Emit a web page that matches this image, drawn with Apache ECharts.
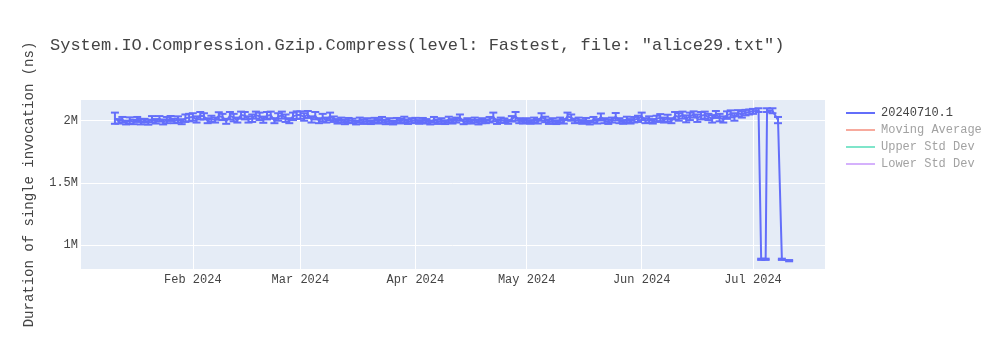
<!DOCTYPE html>
<html>
<head>
<meta charset="utf-8">
<script src="https://cdn.jsdelivr.net/npm/echarts@6/dist/echarts.min.js"></script>
<style>
html,body{margin:0;padding:0;background:#fff;}
#chart{width:1000px;height:350px;}
</style>
</head>
<body>
<div id="chart"></div>
<script>
const chartTitle = 'System.IO.Compression.Gzip.Compress(level: Fastest, file: "alice29.txt")';
const yTitle = 'Duration of single invocation (ns)';
const seriesNames = ['20240710.1', 'Moving Average', 'Upper Std Dev', 'Lower Std Dev'];
const monthNames = ['Jan','Feb','Mar','Apr','May','Jun','Jul','Aug','Sep','Oct','Nov','Dec'];

const dates = [
'2024-01-11','2024-01-12','2024-01-13','2024-01-14','2024-01-15','2024-01-16','2024-01-17','2024-01-18','2024-01-19','2024-01-20','2024-01-21','2024-01-22','2024-01-23','2024-01-24','2024-01-25','2024-01-26','2024-01-27','2024-01-28','2024-01-29','2024-01-30','2024-01-31',
'2024-02-01','2024-02-02','2024-02-03','2024-02-04','2024-02-05','2024-02-06','2024-02-07','2024-02-08','2024-02-09','2024-02-10','2024-02-11','2024-02-12','2024-02-13','2024-02-14','2024-02-15','2024-02-16','2024-02-17','2024-02-18','2024-02-19','2024-02-20','2024-02-21','2024-02-22','2024-02-23','2024-02-24','2024-02-25','2024-02-26','2024-02-27','2024-02-28','2024-02-29',
'2024-03-01','2024-03-02','2024-03-03','2024-03-04','2024-03-05','2024-03-06','2024-03-07','2024-03-08','2024-03-09','2024-03-10','2024-03-11','2024-03-12','2024-03-13','2024-03-14','2024-03-15','2024-03-16','2024-03-17','2024-03-18','2024-03-19','2024-03-20','2024-03-21','2024-03-22','2024-03-23','2024-03-24','2024-03-25','2024-03-26','2024-03-27','2024-03-28','2024-03-29','2024-03-30','2024-03-31',
'2024-04-01','2024-04-02','2024-04-03','2024-04-04','2024-04-05','2024-04-06','2024-04-07','2024-04-08','2024-04-09','2024-04-10','2024-04-11','2024-04-12','2024-04-13','2024-04-14','2024-04-15','2024-04-16','2024-04-17','2024-04-18','2024-04-19','2024-04-20','2024-04-21','2024-04-22','2024-04-23','2024-04-24','2024-04-25','2024-04-26','2024-04-27','2024-04-28','2024-04-29','2024-04-30',
'2024-05-01','2024-05-02','2024-05-03','2024-05-04','2024-05-05','2024-05-06','2024-05-07','2024-05-08','2024-05-09','2024-05-10','2024-05-11','2024-05-12','2024-05-13','2024-05-14','2024-05-15','2024-05-16','2024-05-17','2024-05-18','2024-05-19','2024-05-20','2024-05-21','2024-05-22','2024-05-23','2024-05-24','2024-05-25','2024-05-26','2024-05-27','2024-05-28','2024-05-29','2024-05-30','2024-05-31',
'2024-06-01','2024-06-02','2024-06-03','2024-06-04','2024-06-05','2024-06-06','2024-06-07','2024-06-08','2024-06-09','2024-06-10','2024-06-11','2024-06-12','2024-06-13','2024-06-14','2024-06-15','2024-06-16','2024-06-17','2024-06-18','2024-06-19','2024-06-20','2024-06-21','2024-06-22','2024-06-23','2024-06-24','2024-06-25','2024-06-26','2024-06-27','2024-06-28','2024-06-29','2024-06-30',
'2024-07-01','2024-07-02 12:00','2024-07-03 05:00','2024-07-04 10:00','2024-07-04 19:00','2024-07-06 06:00','2024-07-07 18:00','2024-07-08 19:00','2024-07-10 18:00'
];

const durations = [
2020000,1995000,2008000,1985000,2002000,1990000,2010000,1992000,2000000,1988000,2012000,1995000,2015000,1990000,2005000,2018000,1998000,2010000,1992000,2020000,2025000,
2030000,2010000,2040000,2035000,2000000,2015000,2005000,2038000,2030000,1995000,2040000,2025000,2005000,2045000,2040000,2010000,2020000,2045000,2035000,2008000,2040000,2045000,2000000,2030000,2045000,2020000,2000000,2035000,2045000,
2045000,2030000,2050000,2010000,2040000,2000000,2025000,2005000,2035000,2012000,1995000,2005000,1990000,2002000,1998000,1985000,2005000,1992000,2000000,1988000,2003000,1995000,2008000,1990000,2000000,1985000,2002000,1996000,2010000,1992000,2000000,
2005000,1990000,2002000,1995000,1985000,2008000,1992000,2000000,1988000,2010000,1995000,2005000,2025000,1990000,2000000,1992000,2005000,1988000,2000000,1995000,2008000,2030000,1992000,2005000,2000000,1990000,2015000,2035000,2000000,1995000,
2002000,1990000,2005000,1995000,2030000,2010000,1992000,2000000,1988000,2005000,1995000,2035000,2025000,1998000,2005000,1990000,2002000,1985000,2008000,1995000,2030000,2000000,1992000,2005000,2032000,2000000,1990000,2010000,1995000,2008000,2015000,
2035000,2000000,2010000,1995000,2015000,2025000,2005000,2020000,2000000,2040000,2030000,2045000,2015000,2035000,2050000,2020000,2040000,2045000,2030000,2015000,2050000,2025000,2010000,2045000,2055000,2030000,2060000,2050000,2065000,2070000,
2075000,2085000,885000,885000,2085000,2080000,2005000,885000,874000
];

const errors = [
45000,18000,22000,15000,25000,18000,20000,22000,15000,20000,25000,18000,22000,20000,25000,20000,18000,25000,20000,30000,30000,
30000,25000,30000,25000,20000,25000,20000,30000,25000,20000,30000,30000,20000,28000,30000,25000,30000,28000,30000,25000,30000,28000,20000,30000,28000,30000,20000,30000,30000,
30000,30000,28000,25000,30000,20000,30000,20000,30000,22000,18000,20000,18000,20000,18000,15000,20000,18000,20000,15000,20000,18000,22000,18000,20000,15000,20000,18000,22000,18000,20000,
18000,15000,20000,18000,15000,22000,18000,20000,15000,22000,18000,20000,25000,18000,20000,15000,20000,18000,20000,15000,22000,35000,18000,20000,18000,15000,22000,35000,20000,18000,
18000,15000,20000,18000,30000,22000,18000,20000,15000,20000,18000,30000,25000,18000,20000,15000,20000,15000,22000,18000,28000,20000,18000,20000,30000,20000,15000,22000,18000,22000,25000,
30000,20000,25000,18000,25000,28000,20000,28000,20000,30000,30000,28000,28000,30000,25000,30000,30000,28000,25000,30000,28000,30000,25000,30000,28000,30000,25000,25000,22000,20000,
20000,15000,5000,5000,15000,20000,25000,5000,5000
];

const lineColors = ['#636efa', 'rgba(239,85,59,0.5)', 'rgba(0,204,150,0.5)', 'rgba(171,99,250,0.5)'];
const legendTextColors = ['#444444', '#a2a2a2', '#a2a2a2', '#a2a2a2'];

const FONT = '"Liberation Mono", "Courier New", monospace';

const mainData = dates.map((d, i) => [d, durations[i]]);
const errData = dates.map((d, i) => [d, durations[i] - errors[i], durations[i] + errors[i]]);

function renderErr(params, api) {
  const x = api.value(0);
  const lo = api.coord([x, api.value(1)]);
  const hi = api.coord([x, api.value(2)]);
  const w = 4;
  const style = { stroke: '#636efa', lineWidth: 2, fill: null };
  return {
    type: 'group',
    children: [
      { type: 'line', shape: { x1: lo[0], y1: lo[1], x2: hi[0], y2: hi[1] }, style: style },
      { type: 'line', shape: { x1: lo[0] - w, y1: lo[1], x2: lo[0] + w, y2: lo[1] }, style: style },
      { type: 'line', shape: { x1: hi[0] - w, y1: hi[1], x2: hi[0] + w, y2: hi[1] }, style: style }
    ]
  };
}

const chart = echarts.init(document.getElementById('chart'), null, { renderer: 'canvas' });
chart.setOption({
  animation: false,
  backgroundColor: '#ffffff',
  title: {
    text: chartTitle,
    left: 50, top: 37, padding: 0,
    textStyle: { fontFamily: FONT, fontSize: 17, fontWeight: 'normal', color: '#444444' }
  },
  legend: {
    orient: 'vertical',
    left: 846, top: 107, padding: 0,
    itemWidth: 29, itemHeight: 2, itemGap: 5,
    icon: 'rect',
    selectedMode: false,
    textStyle: { fontFamily: FONT, fontSize: 12, color: '#444444', padding: [0, 0, 0, 1] },
    data: seriesNames.map((n, i) => ({ name: n, textStyle: { color: legendTextColors[i] } }))
  },
  grid: { left: 80, right: 175, top: 100, bottom: 81, containLabel: false, backgroundColor: '#E5ECF6', show: true, borderWidth: 0 },
  xAxis: {
    type: 'time',
    min: '2024-01-01 14:00',
    max: '2024-07-20 10:00',
    splitNumber: 6,
    axisLine: { show: false },
    axisTick: { show: false },
    splitLine: { show: true, lineStyle: { color: '#ffffff', width: 1 } },
    axisLabel: {
      fontFamily: FONT, fontSize: 12, color: '#444444', margin: 5,
      showMinLabel: false, showMaxLabel: false,
      formatter: function (v) { const d = new Date(v); return monthNames[d.getMonth()] + ' ' + d.getFullYear(); }
    }
  },
  yAxis: {
    type: 'value',
    min: 807000,
    max: 2166500,
    minInterval: 500000,
    maxInterval: 500000,
    name: yTitle,
    nameLocation: 'middle',
    nameRotate: 90,
    nameGap: 44,
    nameTextStyle: { fontFamily: FONT, fontSize: 14, color: '#444444' },
    axisLine: { show: false },
    axisTick: { show: false },
    splitLine: { show: true, showMinLine: false, showMaxLine: false, lineStyle: { color: '#ffffff', width: 1 } },
    axisLabel: {
      fontFamily: FONT, fontSize: 12, color: '#444444', margin: 2,
      showMinLabel: false, showMaxLabel: false,
      formatter: function (v) { return (v % 500000 === 0) ? (v / 1e6) + 'M' : ''; }
    }
  },
  series: [
    {
      name: 'errorbars', type: 'custom', renderItem: renderErr, data: errData,
      encode: { x: 0, y: [1, 2] }, clip: true, z: 2, silent: true
    },
    {
      name: seriesNames[0], type: 'line', data: mainData, symbol: 'none',
      color: lineColors[0], lineStyle: { color: lineColors[0], width: 2 }, z: 3, clip: true
    },
    { name: seriesNames[1], type: 'line', data: [], symbol: 'none', color: lineColors[1], lineStyle: { color: lineColors[1], width: 2 } },
    { name: seriesNames[2], type: 'line', data: [], symbol: 'none', color: lineColors[2], lineStyle: { color: lineColors[2], width: 2 } },
    { name: seriesNames[3], type: 'line', data: [], symbol: 'none', color: lineColors[3], lineStyle: { color: lineColors[3], width: 2 } }
  ]
});
</script>
</body>
</html>
